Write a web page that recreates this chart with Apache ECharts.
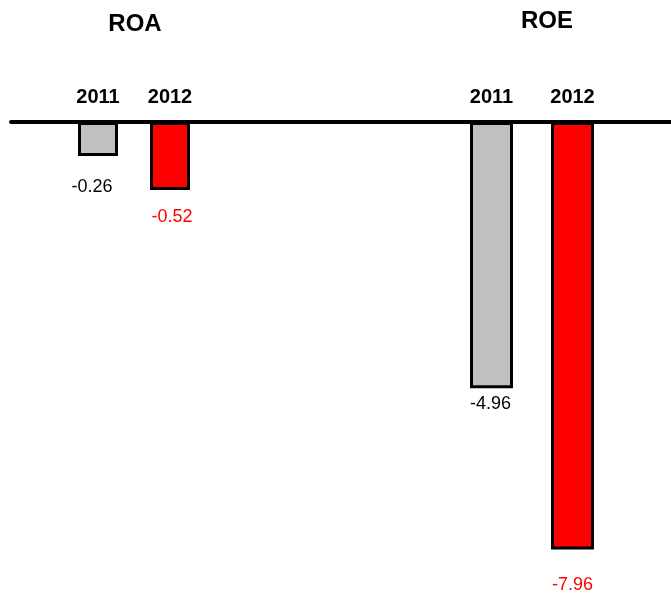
<!DOCTYPE html>
<html>
<head>
<meta charset="utf-8">
<script src="https://cdn.jsdelivr.net/npm/echarts@6/dist/echarts.min.js"></script>
<style>
  html, body { margin: 0; padding: 0; background: #fff; }
  #chart { width: 671px; height: 593px; }
</style>
</head>
<body>
<div id="chart"></div>
<script>
// Return ratios, by year
const metrics = ['ROA', 'ROE'];
const years = ['2011', '2012'];
const roaValues = [-0.26, -0.52];
const roeValues = [-4.96, -7.96];

// Styling per year
const barColors = ['#c0c0c0', '#ff0000'];
const labelColors = ['#000000', '#ff0000'];
// Value label nudges [dx, distance] per metric, per year
const labelNudge = [
  [[-6, 22], [2, 18]],
  [[-1, 7], [0, 27]]
];

const FONT = '"Liberation Sans", Arial, Helvetica, sans-serif';

function buildData(values, m) {
  return values.map((v, i) => ({
    value: v,
    itemStyle: { color: barColors[i] },
    label: {
      color: labelColors[i],
      offset: [labelNudge[m][i][0], 0],
      distance: labelNudge[m][i][1]
    }
  }));
}

function categoryAxis(gridIndex) {
  return {
    type: 'category',
    gridIndex: gridIndex,
    data: years,
    position: 'top',
    axisLine: { show: false },
    axisTick: { show: false },
    axisLabel: {
      color: '#000',
      fontSize: 20,
      fontWeight: 'bold',
      fontFamily: FONT,
      margin: 15
    }
  };
}

function valueAxis(gridIndex, min) {
  return {
    type: 'value',
    gridIndex: gridIndex,
    min: min,
    max: 0,
    show: false
  };
}

const chart = echarts.init(document.getElementById('chart'), null, { renderer: 'canvas' });

chart.setOption({
  backgroundColor: '#ffffff',
  animation: false,
  graphic: [
    {
      type: 'text', x: 135, y: 24,
      style: { text: metrics[0], fill: '#000', fontSize: 24, fontWeight: 'bold', fontFamily: FONT, align: 'center', verticalAlign: 'middle' }
    },
    {
      type: 'text', x: 547, y: 21,
      style: { text: metrics[1], fill: '#000', fontSize: 24, fontWeight: 'bold', fontFamily: FONT, align: 'center', verticalAlign: 'middle' }
    }
  ],
  grid: [
    { left: 62, width: 144, top: 122, height: 131 },
    { left: 451, width: 162, top: 122, height: 429.6 },
    // full-width baseline
    { left: 11, right: 0, top: 122, height: 10 }
  ],
  xAxis: [
    categoryAxis(0),
    categoryAxis(1),
    {
      type: 'value',
      gridIndex: 2,
      min: 0,
      max: 1,
      position: 'top',
      z: 5,
      axisLine: { show: true, onZero: false, lineStyle: { color: '#000', width: 4 } },
      axisTick: { show: false },
      axisLabel: { show: false },
      splitLine: { show: false }
    }
  ],
  yAxis: [
    valueAxis(0, -1),
    valueAxis(1, -8),
    { type: 'value', gridIndex: 2, min: 0, max: 1, show: false }
  ],
  series: [
    {
      name: metrics[0],
      type: 'bar',
      xAxisIndex: 0,
      yAxisIndex: 0,
      barWidth: 40,
      itemStyle: { borderColor: '#000', borderWidth: 3 },
      label: {
        show: true,
        position: 'bottom',
        fontSize: 18,
        fontFamily: FONT
      },
      data: buildData(roaValues, 0)
    },
    {
      name: metrics[1],
      type: 'bar',
      xAxisIndex: 1,
      yAxisIndex: 1,
      barWidth: 43,
      itemStyle: { borderColor: '#000', borderWidth: 3 },
      label: {
        show: true,
        position: 'bottom',
        fontSize: 18,
        fontFamily: FONT
      },
      data: buildData(roeValues, 1)
    }
  ]
});
</script>
</body>
</html>
